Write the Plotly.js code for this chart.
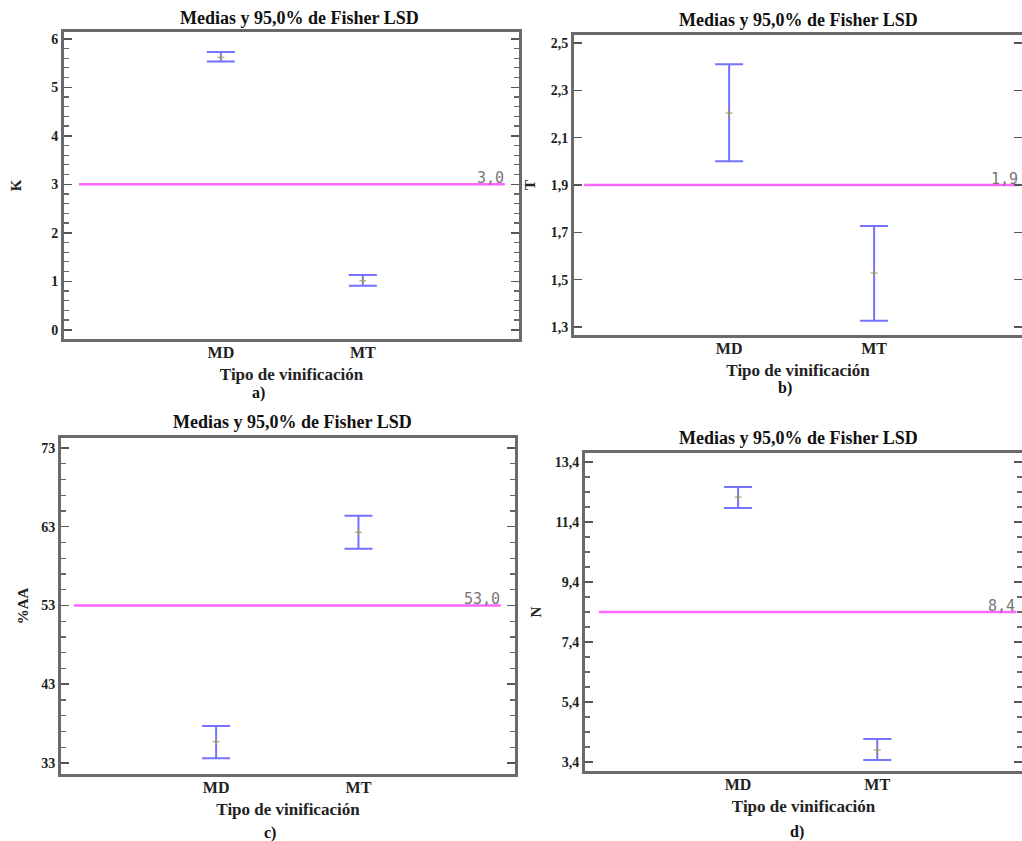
<!DOCTYPE html>
<html><head><meta charset="utf-8">
<script src="https://cdn.plot.ly/plotly-3.0.1.min.js"></script>
<style>html,body{margin:0;padding:0;background:#fff}</style>
</head><body>
<div id="chart" style="width:1022px;height:841px"></div>
<script>
// ---- data ----
const categories = ['MD', 'MT'];
const catPos = [0, 1];

const kMeans = [5.62, 1.01];
const kLower = [5.53, 0.91];
const kUpper = [5.73, 1.13];
const kGrand = 3.0;

const tMeans = [2.204, 1.528];
const tLower = [2.00, 1.326];
const tUpper = [2.41, 1.727];
const tGrand = 1.9;

const aaMeans = [35.7, 62.3];
const aaLower = [33.6, 60.2];
const aaUpper = [37.7, 64.4];
const aaGrand = 53.0;

const nMeans = [12.23, 3.80];
const nLower = [11.87, 3.47];
const nUpper = [12.57, 4.17];
const nGrand = 8.4;

const grandLabels = ['3,0', '1,9', '53,0', '8,4'];
const yLabels = ['K', 'T', '%AA', 'N'];
const panelLabels = ['a)', 'b)', 'c)', 'd)'];
const chartTitle = 'Medias y 95,0% de Fisher LSD';
const xTitle = 'Tipo de vinificación';
const lineExtent = [-1, 2];

// ---- styling ----
const serif = '"Liberation Serif", "Times New Roman", Times, serif';
const W = 1022, H = 841;
const px = v => v / W;
const py = v => 1 - v / H;

const panels = [
  {means: kMeans, lower: kLower, upper: kUpper, grand: kGrand,
   xd: [px(64), px(519)], yd: [py(339), py(32)], xr: [-1.105, 2.1], yr: [-0.19, 6.14],
   tick0: 0, dtick: 1, fmt: 'd', minor: 0.2, standoff: 26,
   title: [299, 18], plab: [258, 393]},
  {means: tMeans, lower: tLower, upper: tUpper, grand: tGrand,
   xd: [px(574), 1], yd: [py(335), py(35)], xr: [-1.07, 2.02], yr: [1.266, 2.534],
   tick0: 1.3, dtick: 0.2, fmt: '.1f', minor: null, standoff: 12,
   title: [798, 20], plab: [785, 388]},
  {means: aaMeans, lower: aaLower, upper: aaUpper, grand: aaGrand,
   xd: [px(61), px(515)], yd: [py(774), py(438)], xr: [-1.09, 2.1], yr: [31.6, 74.27],
   tick0: 33, dtick: 10, fmt: 'd', minor: 2, standoff: 9,
   title: [292, 422], plab: [270, 833]},
  {means: nMeans, lower: nLower, upper: nUpper, grand: nGrand,
   xd: [px(585), 1], yd: [py(771), py(453)], xr: [-1.1, 2.04], yr: [3.1, 13.7],
   tick0: 3.4, dtick: 2, fmt: '.1f', minor: 0.5, standoff: 10,
   title: [798, 438], plab: [797, 832]}
];

const traces = [];
const layout = {
  width: W, height: H,
  margin: {l: 0, r: 0, t: 0, b: 0},
  paper_bgcolor: '#fff', plot_bgcolor: '#fff',
  showlegend: false,
  separators: ',.',
  annotations: []
};

panels.forEach((p, i) => {
  const n = i === 0 ? '' : String(i + 1);
  const xa = 'x' + n, ya = 'y' + n;
  // grand mean line
  traces.push({
    type: 'scatter', mode: 'lines', xaxis: xa, yaxis: ya,
    x: lineExtent, y: [p.grand, p.grand],
    line: {color: '#ff66ff', width: 2.5}, hoverinfo: 'skip'
  });
  // means with LSD intervals
  traces.push({
    type: 'scatter', mode: 'markers', xaxis: xa, yaxis: ya,
    x: catPos, y: p.means,
    marker: {symbol: 'cross-thin', size: 5, color: '#9a9a50', line: {color: '#9a9a50', width: 1}},
    error_y: {
      type: 'data', symmetric: false,
      array: p.upper.map((u, k) => u - p.means[k]),
      arrayminus: p.lower.map((l, k) => p.means[k] - l),
      color: 'rgba(90,90,255,0.85)', thickness: 2, width: 14
    }
  });
  layout['xaxis' + n] = {
    domain: p.xd, range: p.xr, anchor: ya,
    tickvals: catPos, ticktext: categories, ticks: '',
    showline: true, mirror: true, linecolor: '#6a6a6a', linewidth: 3,
    showgrid: false, zeroline: false,
    tickfont: {family: serif, size: 16, color: '#222', weight: 'bold'},
    ticklabelstandoff: -3,
    title: {text: xTitle, font: {family: serif, size: 17, color: '#222', weight: 'bold'}, standoff: 8}
  };
  const yax = {
    domain: p.yd, range: p.yr, anchor: xa,
    tick0: p.tick0, dtick: p.dtick, tickformat: p.fmt,
    ticks: 'inside', ticklen: 8, tickwidth: 1.5, tickcolor: '#555',
    showline: true, mirror: 'allticks', linecolor: '#6a6a6a', linewidth: 3,
    showgrid: false, zeroline: false,
    tickfont: {family: serif, size: 14, color: '#222', weight: 'bold'},
    title: {text: yLabels[i], font: {family: serif, size: 15, color: '#222', weight: 'bold'}, standoff: p.standoff}
  };
  if (p.minor) {
    yax.minor = {ticks: 'inside', ticklen: 5, tickwidth: 1.2, tickcolor: '#666', tick0: p.tick0, dtick: p.minor, showgrid: false};
  }
  layout['yaxis' + n] = yax;

  // grand mean label
  layout.annotations.push({
    xref: xa, yref: ya, x: lineExtent[1], y: p.grand,
    xanchor: 'right', yanchor: 'bottom', yshift: -4, showarrow: false, borderpad: 0,
    text: grandLabels[i],
    font: {family: 'DejaVu Sans Mono, monospace', size: 15, color: '#777'}
  });
  // panel title
  layout.annotations.push({
    xref: 'paper', yref: 'paper', x: px(p.title[0]), y: py(p.title[1]),
    xanchor: 'center', yanchor: 'middle', showarrow: false,
    text: chartTitle,
    font: {family: serif, size: 18, color: '#111', weight: 'bold'}
  });
  // panel letter
  layout.annotations.push({
    xref: 'paper', yref: 'paper', x: px(p.plab[0]), y: py(p.plab[1]),
    xanchor: 'center', yanchor: 'middle', showarrow: false,
    text: panelLabels[i],
    font: {family: serif, size: 16, color: '#111', weight: 'bold'}
  });
});

Plotly.newPlot('chart', traces, layout, {displayModeBar: false, staticPlot: true});
</script>
</body></html>
